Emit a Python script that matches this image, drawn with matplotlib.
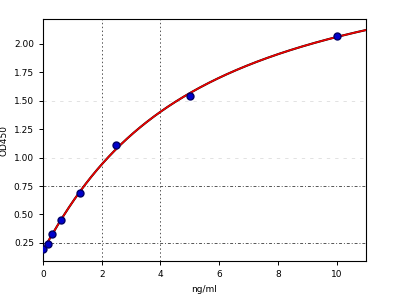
import numpy as np
import matplotlib
matplotlib.use('Agg')
import matplotlib.pyplot as plt

# standard curve points
conc = [0, 0.156, 0.3125, 0.625, 1.25, 2.5, 5, 10]
od = [0.20, 0.24, 0.33, 0.45, 0.69, 1.11, 1.54, 2.07]
xticks = [0, 2, 4, 6, 8, 10]
yticks = [0.25, 0.50, 0.75, 1.00, 1.25, 1.50, 1.75, 2.00]


def fourpl(x, p):
    a, b, c, d = p
    return d + (a - d) / (1 + (np.maximum(x, 0) / c) ** b)


def fit_4pl(x, y, p0, n_iter=200):
    # tiny Gauss-Newton with a numeric jacobian
    p = np.array(p0, dtype=float)
    for _ in range(n_iter):
        r = y - fourpl(x, p)
        J = np.zeros((len(x), 4))
        for k in range(4):
            dp = np.zeros(4)
            dp[k] = 1e-6 * max(abs(p[k]), 1)
            J[:, k] = (fourpl(x, p + dp) - fourpl(x, p)) / dp[k]
        step, *_ = np.linalg.lstsq(J, r, rcond=None)
        p_new = p + 0.5 * step
        if p_new[2] <= 0 or p_new[1] <= 0:
            break
        p = p_new
    return p


x = np.array(conc)
y = np.array(od)
params = fit_4pl(x, y, [0.2, 1.0, 5.0, 3.0])
xs = np.linspace(0, 11, 400)
ys = fourpl(xs, params)

fig = plt.figure(figsize=(3.99, 3.04), dpi=100)
ax = fig.add_axes([43 / 399, 1 - 261 / 304, 323 / 399, 242 / 304])

for gx in [2, 4]:
    ax.axvline(gx, color='#555555', ls=(0, (1.5, 2.5)), lw=0.7, zorder=0)
for gy in [0.25, 0.75]:
    ax.axhline(gy, color='#555555', ls=(0, (3, 2, 1, 2)), lw=0.7, zorder=0)
for gy in [1.0, 1.5]:
    ax.axhline(gy, color='#dddddd', ls=(0, (4, 6)), lw=0.6, zorder=0)

ax.plot(xs, ys, color='black', lw=1.5, zorder=2)
ax.plot(xs, ys, color='#ee0000', lw=1.2, zorder=3)
ax.plot(conc, od, 'o', color='#0000cc', mec='#000066', ms=5, zorder=4)

ax.set_xlim(0, 11)
ax.set_ylim(0.09, 2.22)
ax.set_xticks(xticks)
ax.set_yticks(yticks)
ax.set_yticklabels([f'{v:.2f}' for v in yticks])
ax.tick_params(labelsize=6.5, length=3, width=0.7)
ax.set_xlabel('ng/ml', fontsize=6.5, labelpad=4)
ax.set_ylabel('OD450', fontsize=6.5, labelpad=4)

fig.savefig('out.png', dpi=100)
